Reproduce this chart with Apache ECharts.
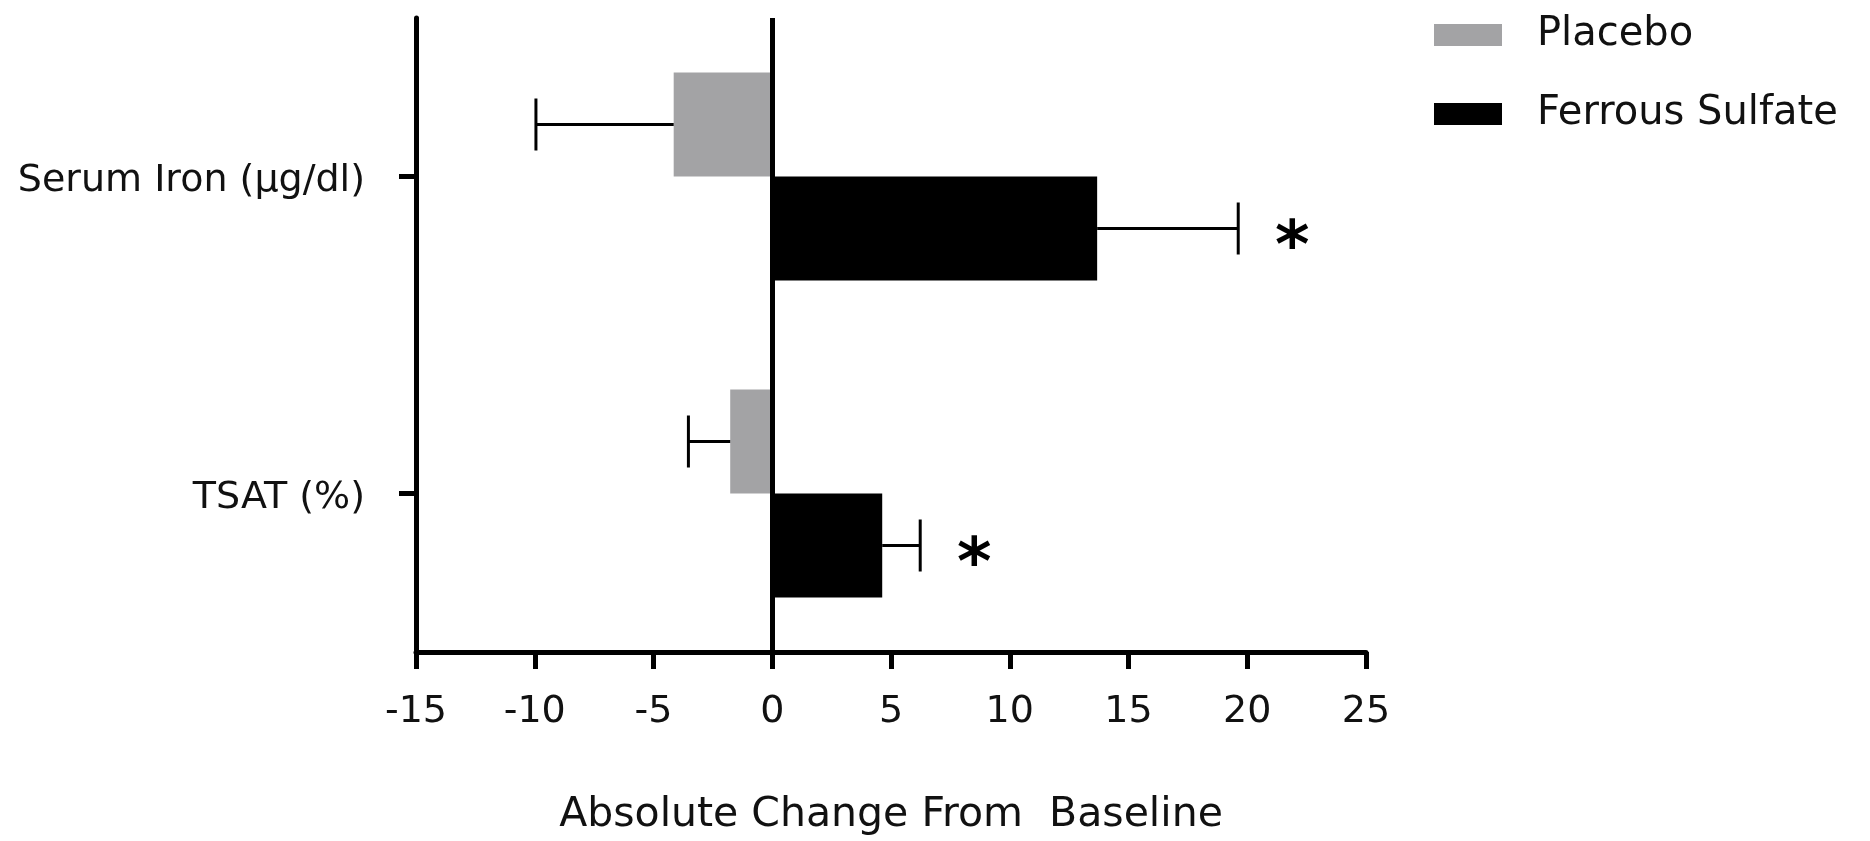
<!DOCTYPE html>
<html>
<head>
<meta charset="utf-8">
<script src="https://cdn.jsdelivr.net/npm/echarts@6/dist/echarts.min.js"></script>
<style>
  html, body { margin: 0; padding: 0; background: #fff; }
  #chart { width: 1870px; height: 841px; }
</style>
</head>
<body>
<div id="chart"></div>
<script>
// ---- data ----
const categories = ['Serum Iron (μg/dl)', 'TSAT (%)'];
const seriesNames = ['Placebo', 'Ferrous Sulfate'];
const placeboMean = [-4.15, -1.77];
const placeboSem = [5.8, 1.76];
const ferrousMean = [13.68, 4.63];
const ferrousSem = [5.94, 1.6];
const ferrousSignif = ['*', '*'];
const placeboSignif = ['', ''];
const xMin = -15, xMax = 25, xStep = 5;
const axisTitle = 'Absolute Change From  Baseline';

// ---- styling constants ----
const FONT = 'DejaVu Sans';
const BAR_W = 104;
const CAP_H = 52;
const TXT = '#111';

function errData(means, sems, sig) {
  return means.map((m, i) => [i, m, m + Math.sign(m) * sems[i], sig[i]]);
}

function errRender(side) {
  return function (params, api) {
    const cat = api.value(0);
    const mean = api.value(1);
    const end = api.value(2);
    const sig = api.value(3);
    const p0 = api.coord([mean, cat]);
    const p1 = api.coord([end, cat]);
    const y = p0[1] + side * BAR_W / 2;
    const dir = Math.sign(end - mean) || 1;
    const style = { stroke: '#000', lineWidth: 3 };
    const children = [
      { type: 'line', shape: { x1: p0[0], y1: y, x2: p1[0], y2: y }, style: style },
      { type: 'line', shape: { x1: p1[0], y1: y - CAP_H / 2, x2: p1[0], y2: y + CAP_H / 2 }, style: style }
    ];
    if (sig && sig !== '-') {
      children.push({
        type: 'text',
        style: {
          x: p1[0] + dir * 54, y: y + 21,
          text: String(sig),
          fill: '#000',
          font: 'bold 66px "DejaVu Sans"',
          align: 'center', verticalAlign: 'middle'
        }
      });
    }
    return { type: 'group', children: children };
  };
}

const chart = echarts.init(document.getElementById('chart'), null, { renderer: 'canvas' });
chart.setOption({
  animation: false,
  backgroundColor: '#fff',
  textStyle: { fontFamily: FONT, color: TXT },
  legend: {
    orient: 'vertical',
    left: 1429, top: 8,
    itemWidth: 68, itemHeight: 22,
    itemGap: 35,
    icon: 'rect',
    textStyle: { fontFamily: FONT, fontSize: 40, color: TXT, lineHeight: 44, padding: [0, 0, 0, 30] },
    data: seriesNames
  },
  grid: { left: 416, right: 504, top: 18, bottom: 187, containLabel: false },
  xAxis: {
    type: 'value',
    min: xMin, max: xMax, interval: xStep,
    name: axisTitle,
    nameLocation: 'middle',
    nameGap: 143,
    nameTextStyle: { fontFamily: FONT, fontSize: 41, color: TXT },
    axisLine: { show: true, onZero: false, lineStyle: { color: '#000', width: 5 } },
    axisTick: { show: true, length: 17, lineStyle: { color: '#000', width: 5 } },
    axisLabel: { fontFamily: FONT, fontSize: 38, color: TXT, margin: 41 },
    splitLine: { show: false }
  },
  yAxis: {
    type: 'category',
    inverse: true,
    data: categories,
    axisLine: { show: true, onZero: false, lineStyle: { color: '#000', width: 5 } },
    axisTick: { show: true, alignWithLabel: true, length: 17, lineStyle: { color: '#000', width: 5 } },
    axisLabel: { fontFamily: FONT, fontSize: 38, color: TXT, margin: 51, verticalAlign: 'top', lineHeight: 10 },
    splitLine: { show: false }
  },
  series: [
    {
      name: seriesNames[0], type: 'bar',
      data: placeboMean,
      barWidth: BAR_W, barGap: '0%',
      itemStyle: { color: '#a3a3a5' },
      z: 2
    },
    {
      name: seriesNames[1], type: 'bar',
      data: ferrousMean,
      barWidth: BAR_W, barGap: '0%',
      itemStyle: { color: '#000' },
      z: 2,
      markLine: {
        silent: true, symbol: 'none', label: { show: false },
        lineStyle: { color: '#000', width: 5, type: 'solid' },
        data: [{ xAxis: 0 }],
        z: 5
      }
    },
    {
      type: 'custom', name: 'errP',
      renderItem: errRender(-1),
      encode: { x: [1, 2], y: 0 },
      data: errData(placeboMean, placeboSem, placeboSignif),
      z: 3, silent: true
    },
    {
      type: 'custom', name: 'errF',
      renderItem: errRender(1),
      encode: { x: [1, 2], y: 0 },
      data: errData(ferrousMean, ferrousSem, ferrousSignif),
      z: 3, silent: true
    }
  ]
});
</script>
</body>
</html>
